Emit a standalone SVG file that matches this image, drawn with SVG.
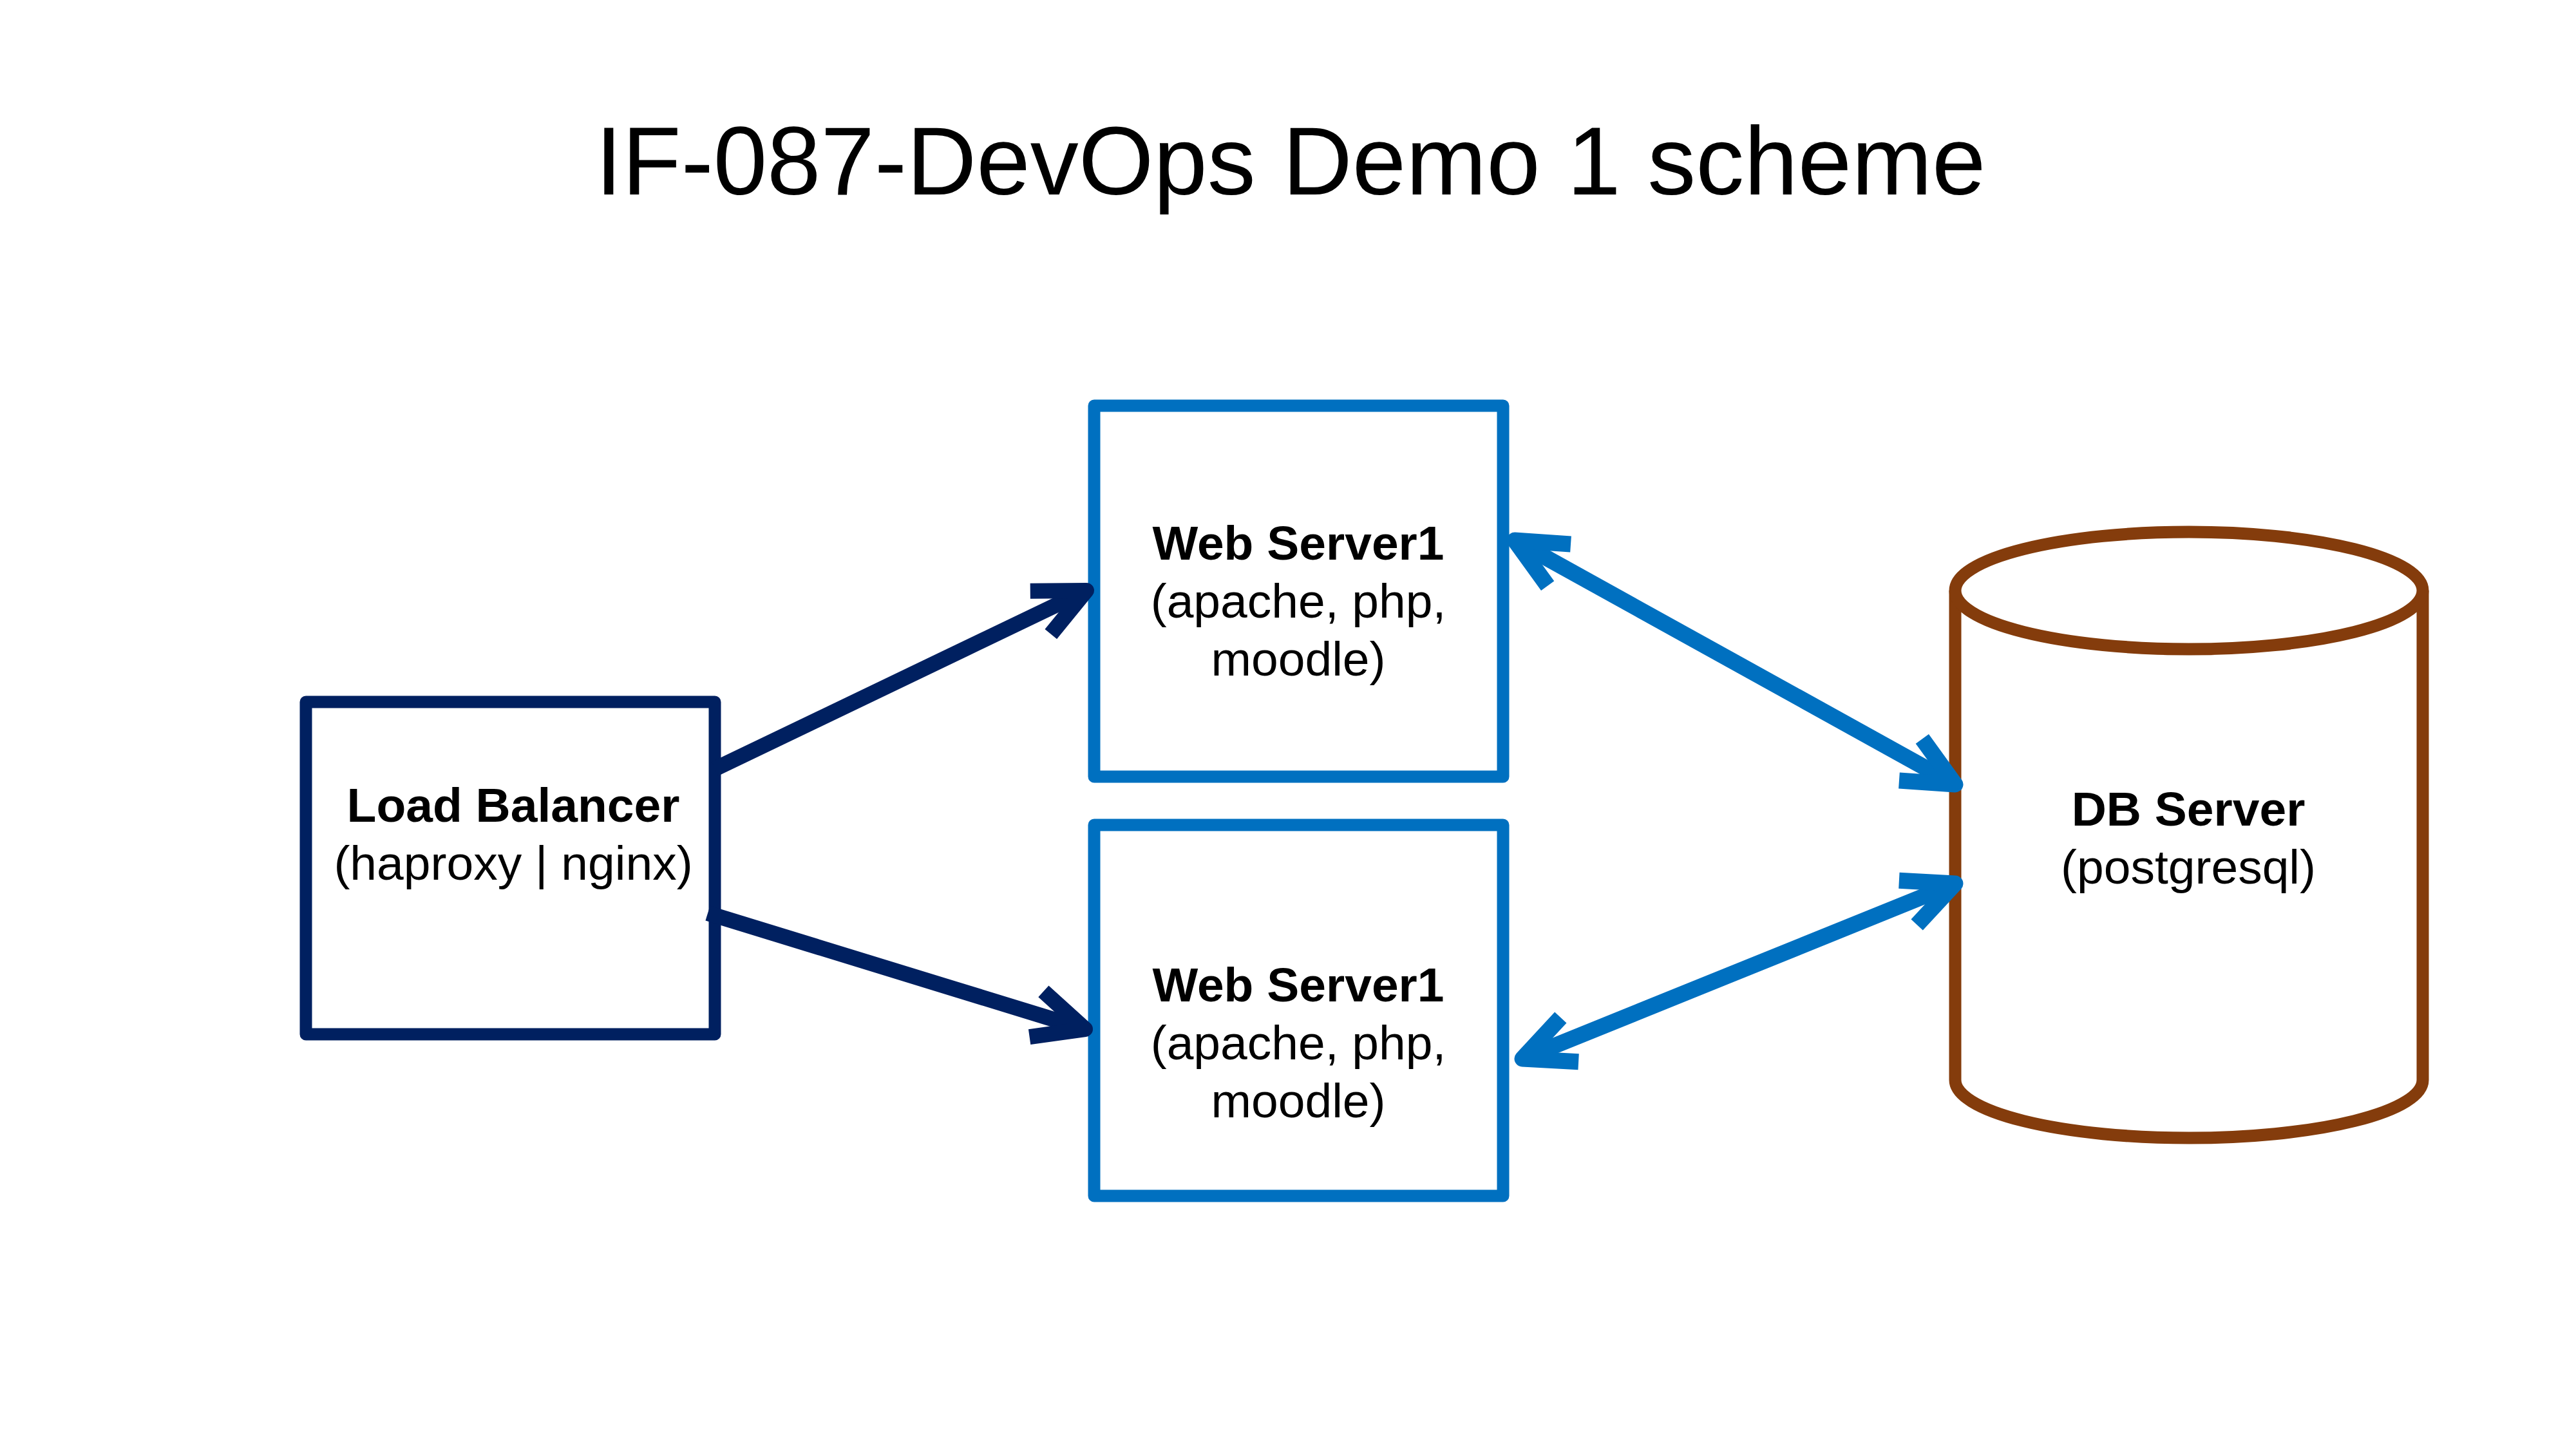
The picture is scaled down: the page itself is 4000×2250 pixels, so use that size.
<svg xmlns="http://www.w3.org/2000/svg" width="4000" height="2250" viewBox="0 0 4000 2250">
<style>
  .title { font-family: "Liberation Sans", Arial, sans-serif; font-size: 150px; fill: #000; }
  .lbl { font-family: "Liberation Sans", Arial, sans-serif; font-size: 75px; fill: #000; text-anchor: middle; }
  .b { font-weight: bold; }
  .navybox { fill: #fff; stroke: #002060; stroke-width: 19; stroke-linejoin: round; }
  .bluebox { fill: #fff; stroke: #0070C0; stroke-width: 19; stroke-linejoin: round; }
  .db { fill: #fff; stroke: #843C0C; stroke-width: 19; stroke-linejoin: round; }
  .navyline { fill: none; stroke: #002060; stroke-width: 24; marker-end: url(#arrNavy); }
  .blueline { fill: none; stroke: #0070C0; stroke-width: 25; marker-start: url(#arrBlue); marker-end: url(#arrBlue); }
</style>
<defs>
  <marker id="arrNavy" markerUnits="userSpaceOnUse" orient="auto-start-reverse" refX="0" refY="0" markerWidth="200" markerHeight="200" viewBox="-150 -100 200 200" overflow="visible">
    <path d="M -79 -37 L 0 0 L -79 37" fill="none" stroke="#002060" stroke-width="24" stroke-linejoin="round" stroke-linecap="butt"/>
  </marker>
  <marker id="arrBlue" markerUnits="userSpaceOnUse" orient="auto-start-reverse" refX="0" refY="0" markerWidth="200" markerHeight="200" viewBox="-150 -100 200 200" overflow="visible">
    <path d="M -79 -37 L 0 0 L -79 37" fill="none" stroke="#0070C0" stroke-width="25" stroke-linejoin="round" stroke-linecap="butt"/>
  </marker>
</defs>
<rect width="4000" height="2250" fill="#fff"/>
<text class="title" x="2004" y="302" text-anchor="middle">IF-087-DevOps Demo 1 scheme</text>

<g id="load-balancer">
  <rect class="navybox" x="475" y="1090" width="635" height="516"/>
  <text class="lbl b" x="797" y="1276">Load Balancer</text>
  <text class="lbl" x="797" y="1366">(haproxy | nginx)</text>
</g>

<g id="web-server-1">
  <rect class="bluebox" x="1699" y="630" width="635" height="576"/>
  <text class="lbl b" x="2016" y="869">Web Server1</text>
  <text class="lbl" x="2016" y="959">(apache, php,</text>
  <text class="lbl" x="2016" y="1049">moodle)</text>
</g>

<g id="web-server-2">
  <rect class="bluebox" x="1699" y="1281" width="635" height="576"/>
  <text class="lbl b" x="2016" y="1555">Web Server1</text>
  <text class="lbl" x="2016" y="1645">(apache, php,</text>
  <text class="lbl" x="2016" y="1735">moodle)</text>
</g>

<g id="db-server">
  <path class="db" d="M 3036 917 L 3036 1677 A 363 90 0 0 0 3762 1677 L 3762 917"/>
  <ellipse class="db" cx="3399" cy="917" rx="363" ry="91"/>
  <text class="lbl b" x="3398" y="1282">DB Server</text>
  <text class="lbl" x="3398" y="1372">(postgresql)</text>
</g>

<g id="connectors">
  <line class="navyline" x1="1110" y1="1194" x2="1687" y2="917"/>
  <line class="navyline" x1="1099" y1="1418" x2="1685" y2="1598"/>
  <line class="blueline" x1="2352" y1="839" x2="3036" y2="1218"/>
  <line class="blueline" x1="2364" y1="1644" x2="3036" y2="1372"/>
</g>
</svg>
